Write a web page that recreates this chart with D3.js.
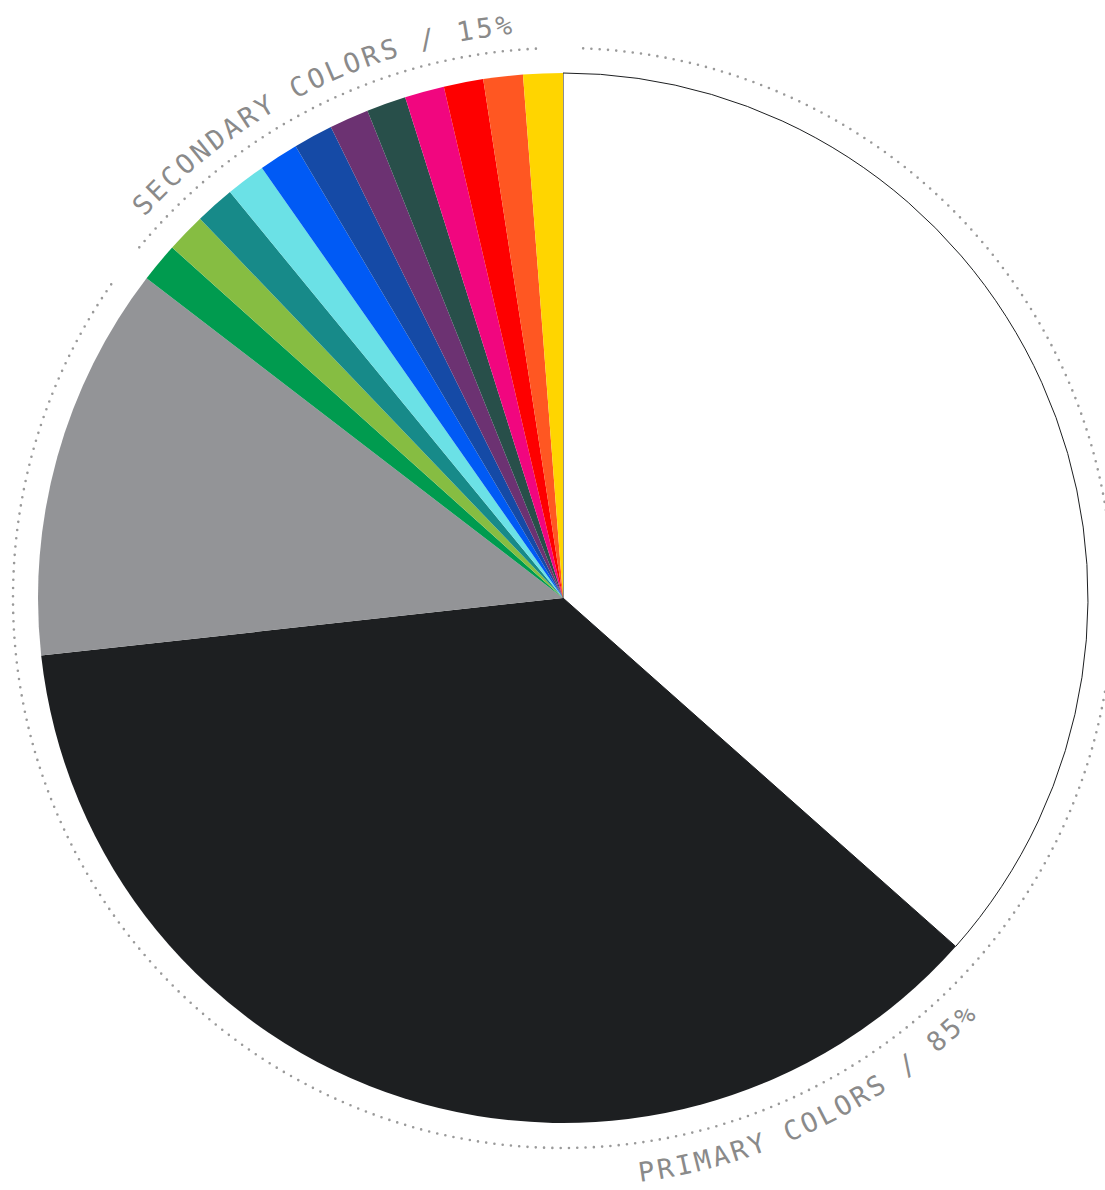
<!DOCTYPE html>
<html>
<head>
<meta charset="utf-8">
<script src="https://cdn.jsdelivr.net/npm/d3@7"></script>
<style>
  html, body { margin: 0; padding: 0; background: #ffffff; }
  svg { display: block; }
</style>
</head>
<body>
<svg id="chart" width="1105" height="1190"></svg>
<script>
// ---- data ----
const categories = ["White", "Black", "Gray",
  "Green", "Light Green", "Teal", "Cyan", "Blue", "Dark Blue",
  "Purple", "Dark Green", "Pink", "Red", "Orange", "Yellow"];
const values = [36.55, 36.7, 12.17,
  1.215, 1.215, 1.215, 1.215, 1.215, 1.215,
  1.215, 1.215, 1.215, 1.215, 1.215, 1.215];
const groups = ["primary", "primary", "primary",
  "secondary", "secondary", "secondary", "secondary", "secondary", "secondary",
  "secondary", "secondary", "secondary", "secondary", "secondary", "secondary"];
const colors = ["#ffffff", "#1d1f21", "#939497",
  "#009b4f", "#86bd42", "#178a89", "#6be1e6", "#005af5", "#154aa6",
  "#6c3272", "#284f4a", "#f1067f", "#fe0000", "#ff5722", "#ffd500"];
const groupLabels = { primary: "PRIMARY COLORS / 85%", secondary: "SECONDARY COLORS / 15%" };

// ---- layout ----
const cx = 563, cy = 598, R = 525;
const ringR = 550, gap = 2.1 * Math.PI / 180;
const secBaseR = 566, priBaseR = 589;

const svg = d3.select("#chart");
const g = svg.append("g").attr("transform", `translate(${cx},${cy})`);

const data = categories.map((c, i) => ({ name: c, value: values[i], group: groups[i], color: colors[i] }));
const pie = d3.pie().value(d => d.value).sort(null);
const arcs = pie(data);
const arc = d3.arc().innerRadius(0).outerRadius(R);

g.selectAll("path.slice").data(arcs).join("path")
  .attr("class", "slice")
  .attr("d", arc)
  .attr("fill", d => d.data.color)
  .attr("stroke", d => d.data.color === "#ffffff" ? "#1d1f21" : "none")
  .attr("stroke-width", 1);

// group extents
const groupExt = {};
arcs.forEach(a => {
  const k = a.data.group;
  if (!groupExt[k]) groupExt[k] = { start: a.startAngle, end: a.endAngle };
  groupExt[k].start = Math.min(groupExt[k].start, a.startAngle);
  groupExt[k].end = Math.max(groupExt[k].end, a.endAngle);
});

function pt(r, a) { return [r * Math.sin(a), -r * Math.cos(a)]; }
function arcPath(r, a0, a1) {
  const p0 = pt(r, a0), p1 = pt(r, a1);
  const large = Math.abs(a1 - a0) > Math.PI ? 1 : 0;
  const sweep = a1 > a0 ? 1 : 0;
  return `M${p0[0]},${p0[1]}A${r},${r} 0 ${large} ${sweep} ${p1[0]},${p1[1]}`;
}

// dotted rings
Object.keys(groupExt).forEach(k => {
  const e = groupExt[k];
  g.append("path")
    .attr("d", arcPath(ringR, e.start + gap, e.end - gap))
    .attr("fill", "none")
    .attr("stroke", "#9a9a9a")
    .attr("stroke-width", 2.6)
    .attr("stroke-linecap", "round")
    .attr("stroke-dasharray", "0 8.3");
});

// label paths
const defs = svg.append("defs");
const pe = groupExt.primary, se = groupExt.secondary;
defs.append("path").attr("id", "secPath")
  .attr("d", arcPath(secBaseR, se.start, se.end))
  .attr("transform", `translate(${cx},${cy})`);
defs.append("path").attr("id", "priPath")
  .attr("d", arcPath(priBaseR, pe.end, pe.start))
  .attr("transform", `translate(${cx},${cy})`);

[["secPath", "secondary"], ["priPath", "primary"]].forEach(([id, k]) => {
  svg.append("text")
    .attr("font-family", "'DejaVu Sans Mono', monospace")
    .attr("font-size", 27)
    .attr("letter-spacing", "3px")
    .attr("fill", "#8a8a8a")
    .append("textPath")
    .attr("href", "#" + id)
    .attr("startOffset", "50%")
    .attr("text-anchor", "middle")
    .text(groupLabels[k]);
});
</script>
</body>
</html>
